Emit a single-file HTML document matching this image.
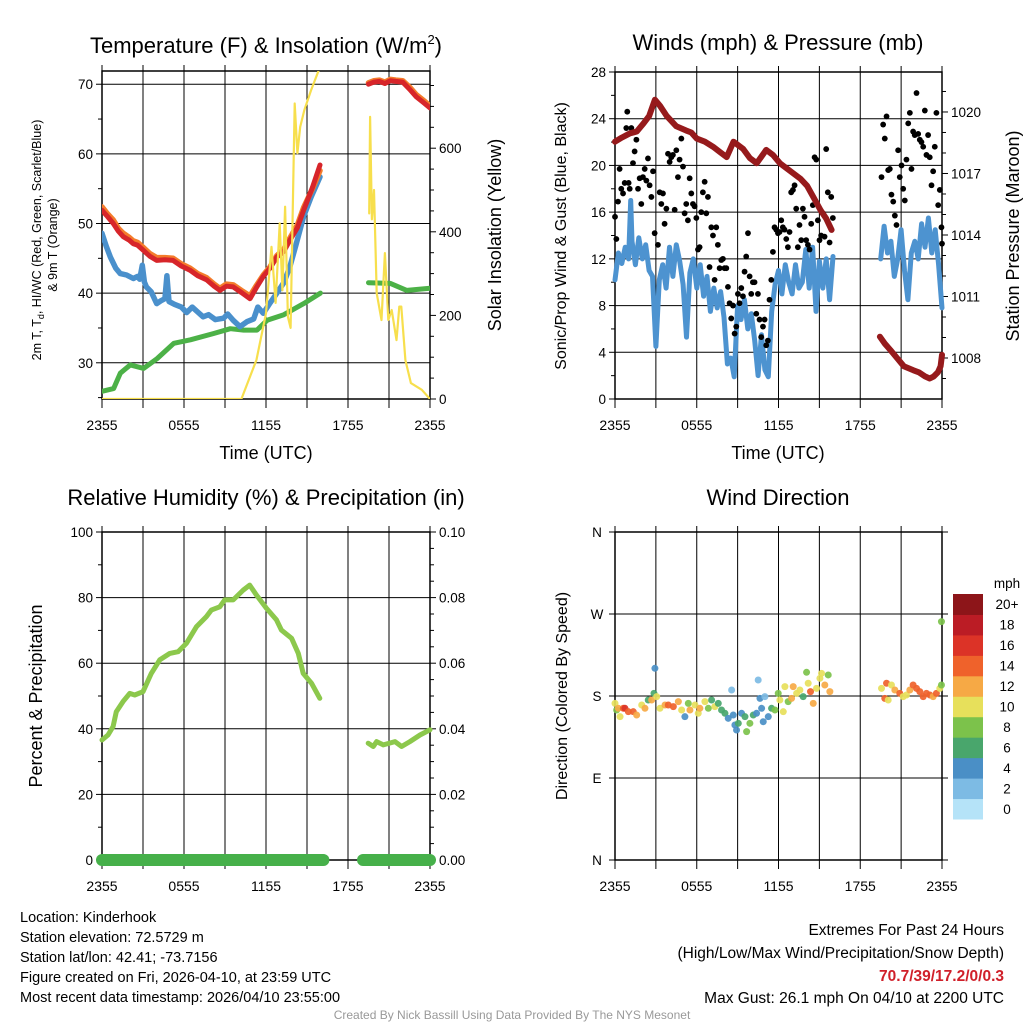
<!DOCTYPE html>
<html><head><meta charset="utf-8">
<style>
html,body{margin:0;padding:0;background:#fff;}
svg{display:block;font-family:"Liberation Sans",Arial,sans-serif;}
</style></head>
<body>
<svg id="chart" width="1024" height="1024" viewBox="0 0 1024 1024" xmlns="http://www.w3.org/2000/svg">
<rect x="0" y="0" width="1024" height="1024" fill="#fff"/>
<text x="266" y="53" font-size="22" text-anchor="middle">Temperature (F) &amp; Insolation (W/m<tspan font-size="13" dy="-9">2</tspan><tspan dy="9">)</tspan></text>
<text x="778" y="50" font-size="22" text-anchor="middle">Winds (mph) &amp; Pressure (mb)</text>
<text x="266" y="505" font-size="22" text-anchor="middle">Relative Humidity (%) &amp; Precipitation (in)</text>
<text x="778" y="505" font-size="22" text-anchor="middle">Wind Direction</text>
<text transform="translate(41,240) rotate(-90)" font-size="12.5" text-anchor="middle">2m T, T<tspan font-size="9" dy="3">d</tspan><tspan dy="-3">, HI/WC (Red, Green, Scarlet/Blue)</tspan></text>
<text transform="translate(57,245) rotate(-90)" font-size="12.5" text-anchor="middle">&amp; 9m T (Orange)</text>
<text transform="translate(501,235) rotate(-90)" font-size="18" text-anchor="middle">Solar Insolation (Yellow)</text>
<text x="266" y="459" font-size="18" text-anchor="middle">Time (UTC)</text>
<text transform="translate(566,236) rotate(-90)" font-size="16" text-anchor="middle">Sonic/Prop Wind &amp; Gust (Blue, Black)</text>
<text transform="translate(1019,236) rotate(-90)" font-size="18" text-anchor="middle">Station Pressure (Maroon)</text>
<text x="778" y="459" font-size="18" text-anchor="middle">Time (UTC)</text>
<text transform="translate(42,696) rotate(-90)" font-size="18" text-anchor="middle">Percent &amp; Precipitation</text>
<text transform="translate(567,696) rotate(-90)" font-size="16" text-anchor="middle">Direction (Colored By Speed)</text>
<g id="layer"></g>
<g font-size="14.5">
<text x="20" y="922">Location: Kinderhook</text>
<text x="20" y="942">Station elevation: 72.5729 m</text>
<text x="20" y="962">Station lat/lon: 42.41; -73.7156</text>
<text x="20" y="982">Figure created on Fri, 2026-04-10, at 23:59 UTC</text>
<text x="20" y="1002">Most recent data timestamp: 2026/04/10 23:55:00</text>
</g>
<g font-size="15.5" text-anchor="end">
<text x="1004" y="935">Extremes For Past 24 Hours</text>
<text x="1004" y="958">(High/Low/Max Wind/Precipitation/Snow Depth)</text>
<text x="1004" y="981" fill="#d0202a" font-weight="bold">70.7/39/17.2/0/0.3</text>
<text x="1004" y="1003">Max Gust: 26.1 mph On 04/10 at 2200 UTC</text>
</g>
<text x="512" y="1019" font-size="12" fill="#999" text-anchor="middle">Created By Nick Bassill Using Data Provided By The NYS Mesonet</text>
</svg>
<script>
// ===== DATA =====
const xTickLabels = ["2355","0555","1155","1755","2355"];
const redT1 = [0,0.4,0.83,1.2,1.56,2.0,2.29,2.6,3.0,3.5,4.0,4.6,5.2,5.8,6.44,7.0,7.66,8.2,8.63,9.1,9.6,10.2,10.83,11.3,11.8,12.3,12.8,13.3,13.75,14.3,14.75,15.4,15.95];
const redV1 = [51.9,51.0,50.0,48.9,48.1,47.6,47.1,46.9,46.2,45.3,44.7,44.8,44.7,43.9,43.3,42.5,41.9,41.0,40.4,41.0,40.9,40.1,39.2,40.8,42.4,43.6,45.2,46.0,47.6,49.4,51.9,55.2,58.4];
const redT2 = [19.5,19.9,20.3,20.7,21.1,21.5,22.0,22.5,23.0,23.5,24.0];
const redV2 = [70.0,70.3,70.4,70.1,70.5,70.4,70.3,69.3,68.2,67.4,66.6];
const orangeV1 = [52.4,51.4,50.5,49.3,48.6,48.0,47.5,47.3,46.6,45.7,45.1,45.1,45.0,44.2,43.6,42.8,42.2,41.3,40.7,41.3,41.2,40.4,39.6,41.1,42.6,43.8,45.4,46.3,47.9,49.8,52.3,55.0,57.6];
const orangeV2 = [70.2,70.5,70.6,70.3,70.7,70.6,70.5,69.6,68.5,67.7,66.9];
const blueTmpT = [0,0.3,0.61,1.0,1.34,1.8,2.29,2.6,2.76,2.95,3.1,3.25,3.6,4.0,4.3,4.6,4.75,4.9,5.3,5.8,6.2,6.6,7.0,7.4,7.8,8.3,8.9,9.2,9.6,10.1,10.6,11.1,11.4,11.8,12.3,12.8,13.3,13.75,14.2,14.75,15.3,15.95];
const blueTmpV = [48.6,46.8,45.2,43.6,42.8,42.6,42.1,42.4,42.0,44.0,41.6,40.9,40.2,38.5,38.9,39.2,42.5,38.8,38.4,38.0,37.2,38.0,37.3,36.6,36.9,36.2,36.4,37.0,36.1,35.2,35.9,36.3,38.0,37.1,38.6,40.0,41.5,43.8,47.0,51.0,53.8,56.7];
const dewT1 = [0,0.85,1.34,2.07,3.05,4.03,5.25,6.47,8.17,9.39,10.37,11.34,12.08,13.3,14.76,15.98];
const dewV1 = [25.9,26.3,28.5,29.7,29.2,30.6,32.8,33.3,34.2,34.9,34.7,34.7,36.1,36.9,38.5,40.0];
const dewT2 = [19.5,21.1,22.3,24.0];
const dewV2 = [41.5,41.4,40.4,40.7];
const solT1 = [0,10.2,11.3,12.0,12.4,12.7,13.0,13.2,13.4,13.6,13.8,14.1,14.3,14.5,14.8,15.3,15.9];
const solV1 = [0,0,93,205,364,230,420,260,460,197,170,707,588,651,691,739,790];
const solT2 = [19.55,19.62,19.75,19.9,20.1,20.45,20.7,20.95,21.2,21.55,21.75,21.9,22.2,22.6,23.4,24.0];
const solV2 = [444,675,430,500,253,189,349,189,213,141,221,221,93,38,22,0];
const windT1 = [0,0.25,0.5,0.75,1.0,1.15,1.25,1.5,1.75,2.0,2.25,2.5,2.75,3.0,3.25,3.5,3.75,4.0,4.25,4.5,4.75,5.0,5.25,5.5,5.75,6.0,6.25,6.5,6.75,7.0,7.25,7.5,7.75,8.0,8.25,8.5,8.75,9.0,9.25,9.5,9.75,10.0,10.25,10.5,10.75,11.0,11.25,11.5,11.75,12.0,12.25,12.5,12.75,13.0,13.25,13.5,13.75,14.0,14.25,14.5,14.75,15.0,15.25,15.5,15.75,16.0];
const windV1 = [10.2,12.5,11.6,13.0,12.0,17.0,13.5,11.5,13.8,12.0,13.2,11.0,10.5,4.5,10.2,11.5,9.5,13.0,10.5,13.2,11.8,9.8,5.3,10.8,12.0,9.5,11.5,8.8,10.5,7.5,9.5,7.8,9.2,7.0,3.0,3.5,1.9,8.0,6.8,8.5,6.0,7.3,5.0,2.0,5.5,2.5,1.9,7.5,9.8,11.0,9.0,11.5,10.0,9.0,11.5,9.5,10.0,12.8,9.5,13.0,7.5,11.8,9.5,12.0,8.5,12.2];
const windT2 = [19.5,19.75,20.0,20.25,20.5,20.75,21.0,21.25,21.5,21.75,22.0,22.25,22.5,22.75,23.0,23.25,23.5,23.75,24.0];
const windV2 = [12.0,14.8,12.5,13.5,10.5,12.0,14.5,11.0,8.5,12.5,13.5,12.0,15.0,13.0,15.5,12.5,14.5,11.5,7.8];
const gustT = [0.00,0.10,0.22,0.34,0.46,0.59,0.71,0.83,0.90,1.00,1.08,1.20,1.32,1.44,1.57,1.69,1.81,1.93,2.05,2.18,2.30,2.42,2.54,2.67,2.79,2.91,
3.15,3.28,3.40,3.52,3.64,3.77,3.89,4.01,4.13,4.25,4.38,4.50,4.62,4.74,4.87,4.99,5.11,5.23,5.35,5.48,5.60,5.72,5.84,5.97,6.09,6.21,6.33,6.45,6.58,6.70,6.82,6.94,7.07,7.19,7.31,7.43,7.55,7.68,7.80,7.92,8.04,8.17,8.29,8.41,8.53,8.66,8.78,8.90,9.02,9.14,9.27,9.39,9.51,9.63,9.76,9.88,10.00,10.12,10.24,10.37,10.49,10.61,10.73,10.86,10.98,11.10,11.22,11.34,11.47,11.59,11.71,11.83,11.96,12.08,12.20,12.32,12.44,12.57,12.69,12.81,12.93,13.06,13.18,13.30,13.42,13.54,13.67,13.79,13.91,14.03,14.16,14.28,14.40,14.52,14.65,14.77,14.89,15.01,15.13,15.26,15.38,15.50,15.62,15.75,15.87,15.99,
19.56,19.68,19.80,19.93,20.05,20.17,20.29,20.42,20.54,20.66,20.78,20.90,21.03,21.15,21.27,21.39,21.52,21.64,21.76,21.88,22.00,22.13,22.25,22.37,22.49,22.62,22.74,22.86,22.98,23.10,23.23,23.35,23.47,23.59,23.72,23.84,23.96,24.0];
const gustV = [15.6,13.7,16.9,19.7,18.0,17.6,18.5,23.2,24.6,18.5,18.0,23.2,20.2,21.2,22.2,18.0,18.9,16.7,19.0,19.7,18.7,20.6,18.3,17.3,19.5,14.2,
13.2,17.7,16.7,17.6,15.0,16.3,21.0,20.3,20.7,20.9,16.2,21.3,19.0,20.5,22.3,19.9,15.9,16.7,15.3,18.9,17.6,16.7,16.5,15.5,12.8,13.0,16.0,17.7,18.6,15.9,17.3,11.3,14.7,14.0,10.2,14.7,13.2,11.2,11.9,12.0,11.2,11.2,9.6,8.2,6.9,8.0,5.6,6.2,9.0,8.2,9.5,8.8,10.9,12.2,14.2,10.5,9.0,10.0,10.0,7.3,9.0,6.8,5.3,6.2,6.8,4.6,5.0,8.5,10.2,12.6,14.7,14.5,14.2,14.3,15.3,14.7,14.5,13.7,13.0,14.3,17.7,17.9,18.3,16.3,13.0,14.9,13.6,16.3,15.6,13.6,13.2,12.8,15.0,16.6,20.7,20.5,15.3,13.6,14.0,15.9,13.9,21.4,17.7,13.4,17.3,15.5,
19.0,23.5,22.3,24.2,19.6,19.7,17.5,16.9,15.7,14.9,21.3,19.0,20.0,18.0,17.0,20.5,23.6,24.5,19.7,22.9,22.6,26.2,22.7,22.2,22.0,21.6,24.7,20.9,22.6,20.7,18.3,19.5,21.6,24.5,16.6,17.9,14.7,13.3];
const presT1 = [0,0.5,1.1,1.6,2.1,2.5,2.93,3.3,3.8,4.5,5.2,5.6,6.0,6.6,7.2,7.7,8.2,8.7,9.4,9.9,10.4,11.1,11.6,12.1,12.6,13.1,13.6,14.1,14.6,15.1,15.5,15.9];
const presV1 = [1018.55,1018.75,1018.96,1019.05,1019.45,1019.8,1020.6,1020.3,1019.8,1019.3,1019.1,1019.0,1018.7,1018.55,1018.3,1018.05,1017.8,1018.55,1018.2,1017.75,1017.5,1018.15,1017.9,1017.5,1017.25,1017.0,1016.75,1016.4,1015.8,1015.2,1014.8,1014.25];
const presT2 = [19.44,19.8,20.2,20.7,21.2,21.9,22.3,22.75,23.1,23.4,23.7,23.9,24.0];
const presV2 = [1009.04,1008.7,1008.4,1008.0,1007.6,1007.4,1007.3,1007.1,1007.0,1007.1,1007.3,1007.6,1008.15];
const rhT1 = [0,0.44,0.81,1.05,1.54,2.03,2.39,3.0,3.61,4.22,4.96,5.57,6.18,6.91,7.64,8.0,8.62,8.98,9.6,10.33,10.81,11.3,12.04,12.77,13.13,13.87,14.36,14.72,15.33,15.94];
const rhV1 = [36.6,38.1,40.7,45.2,48.3,50.8,50.3,51.3,56.9,61.0,63.0,63.5,66.1,71.1,74.2,76.2,77.2,79.3,79.3,82.3,83.8,80.8,76.7,73.2,70.1,67.6,63.0,56.9,53.9,49.3];
const rhT2 = [19.48,19.85,20.09,20.58,21.44,21.92,22.53,23.27,24.0];
const rhV2 = [35.6,34.6,36.1,35.1,36.1,34.6,36.1,38.1,39.7];
const precipT1 = [0,16.2];
const precipV1 = [0,0];
const precipT2 = [19.1,24];
const precipV2 = [0,0];
const dirT = [0.00,0.12,0.24,0.37,0.61,0.73,0.98,1.34,1.59,1.96,2.20,2.44,2.69,2.86,2.93,3.06,3.30,3.67,3.91,4.28,4.65,4.89,5.13,5.38,5.50,5.87,6.11,6.23,6.60,6.85,7.09,7.33,7.58,7.82,8.07,8.31,8.56,8.68,8.80,8.92,9.05,9.29,9.54,9.66,9.90,10.15,10.39,10.51,10.64,10.76,10.88,11.00,11.25,11.49,11.74,11.98,12.10,12.35,12.47,12.71,12.96,13.08,13.33,13.57,13.81,14.06,14.18,14.35,14.55,14.79,15.04,15.16,15.40,15.65,15.77,
19.56,19.80,19.93,20.05,20.29,20.54,20.90,21.15,21.39,21.64,21.88,22.13,22.37,22.62,22.86,23.11,23.35,23.59,23.84,23.96,23.96];
const dirV = [171.9,164.6,166.5,157.3,166.5,166.5,162.8,162.8,159.1,170.1,166.5,175.6,175.6,182.9,210.4,179.3,166.5,170.1,170.1,168.3,173.8,164.6,157.3,171.9,164.6,170.1,161.0,166.5,173.8,166.5,175.6,168.3,171.9,164.6,161.0,155.5,186.6,159.1,148.2,142.7,150.0,161.0,157.3,140.9,150.0,159.1,161.0,197.6,177.4,166.5,151.8,179.3,157.3,166.5,164.6,182.9,175.6,162.8,190.3,173.8,177.4,190.3,182.9,186.6,179.3,206.0,194.0,184.8,171.9,188.4,199.4,204.9,192.1,203.1,184.8,
188.4,177.4,194.0,175.6,192.1,186.6,182.9,179.3,181.1,186.6,192.1,188.4,184.8,179.3,182.9,181.1,179.3,182.9,188.4,192.1,261.6];
const dirSpd = [10.5,9,13,10.5,14.5,17,14.5,14.5,12.5,10.5,12.5,7,12.5,7,5,10.5,10.5,12.5,14.5,14.5,12.5,10.5,5,9,13,10.5,10.5,12.5,10.5,9,7,10.5,7,7,7,5,3,5,5,5,7,5,7,9,9,7,5,3,5,5,5,3,5,7,9,9,10.5,10.5,11,9,12.5,12.5,10.5,11,7,9,10.5,15,13,10.5,10.5,11,12.5,9,12.5,
11,15,14.5,10.5,10.5,12.5,14.5,10.5,11,12.5,14.5,14.5,15,14.5,14.5,14.5,12.5,14.5,10.5,9,9];
const speedBins = ["0","2","4","6","8","10","12","14","16","18","20+"];
const speedColors = ["#b5e3f8","#7dbbe4","#4a8fc6","#49a66c","#7cc24b","#e7e05b","#f6a945","#ef622b","#dc3327","#bb1c25","#8d1519"];

// ===== DRAWING =====
const NS = "http://www.w3.org/2000/svg";
const layer = document.getElementById("layer");
function mk(tag, attrs, parent){
  const e = document.createElementNS(NS, tag);
  for (const k in attrs) e.setAttribute(k, attrs[k]);
  (parent||layer).appendChild(e);
  return e;
}
function lin(d0,d1,r0,r1){ return v => r0 + (v-d0)/(d1-d0)*(r1-r0); }

function panelFrame(p, name){
  const g = mk("g", {});
  
  
  for (let h=0; h<=24; h+=3){
    const x = p.x(h);
    const l = mk("line",{x1:x,x2:x,y1:p.y0-6,y2:p.y1+9,stroke:"#000","stroke-width":1}, g);
    
    
  }
  xTickLabels.forEach((lab,i)=>{
    const t = mk("text",{x:p.x(i*6),y:p.y1+31,"font-size":14,"text-anchor":"middle"}, g);
    t.textContent = lab;
    
    
  });
  return g;
}
function yAxis(g, p, scale, major, minor, min, max, side, fmt, grid){
  for (let v=Math.ceil(min/minor)*minor; v<=max+1e-9; v+=minor){
    const y = scale(v);
    const isMaj = Math.abs(v/major - Math.round(v/major)) < 1e-6;
    const len = isMaj?6:4;
    if (side==="left"){
      mk("line",{x1:p.x0-len,x2:p.x0,y1:y,y2:y,stroke:"#000","stroke-width":1},g);
    } else {
      mk("line",{x1:p.x1,x2:p.x1+len,y1:y,y2:y,stroke:"#000","stroke-width":1},g);
    }
    if (isMaj){
      if (grid) {
        const gl = mk("line",{x1:p.x0,x2:p.x1,y1:y,y2:y,stroke:"#000","stroke-width":1},g);
        
        
      }
      const t = mk("text",{x: side==="left"? p.x0-9 : p.x1+9, y:y+5, "font-size":13.5, "text-anchor": side==="left"?"end":"start"},g);
      t.textContent = fmt(v);
      
      
    }
  }
}
function border(g,p){
  mk("rect",{x:p.x0,y:p.y0,width:p.x1-p.x0,height:p.y1-p.y0,fill:"none",stroke:"#000","stroke-width":1.5},g);
}
function pathFrom(ts, vs, xs, ys){
  let d=""; const n=Math.min(ts.length,vs.length);
  for (let i=0;i<n;i++) d += (i?"L":"M")+xs(ts[i]).toFixed(1)+","+ys(vs[i]).toFixed(1);
  return d;
}
function line(g, ts, vs, xs, ys, color, w, name){
  const e = mk("path",{d:pathFrom(ts,vs,xs,ys),fill:"none",stroke:color,"stroke-width":w,"stroke-linejoin":"round","stroke-linecap":"round"},g);
  
  
  return e;
}

// ---- Panel 1 ----
(function(){
  const p = {x0:102,x1:430,y0:71,y1:399};
  p.x = lin(0,24,p.x0,p.x1);
  const y = lin(24.8,71.9,p.y1,p.y0);
  const yr = lin(0,784.7,p.y1,p.y0);
  const g = panelFrame(p,'temperature-panel');
  yAxis(g,p,y,10,5,25,71.9,"left",v=>String(v),true);
  yAxis(g,p,yr,200,50,0,784,"right",v=>String(v),false);
  const c = mk("g",{});  
  mk("clipPath",{id:"clip1"},c).appendChild(document.createElementNS(NS,"rect"));
  const cr = c.querySelector("#clip1 rect"); cr.setAttribute("x",p.x0);cr.setAttribute("y",p.y0);cr.setAttribute("width",p.x1-p.x0);cr.setAttribute("height",p.y1-p.y0);
  const s = mk("g",{"clip-path":"url(#clip1)"},c);
  line(s,dewT1,dewV1,p.x,y,"#4cb147",5,'dewpoint-line');
  line(s,dewT2,dewV2,p.x,y,"#4cb147",5,'dewpoint-line-2');
  line(s,blueTmpT,blueTmpV,p.x,y,"#4a90cc",5.5,'wind-chill-line');
  line(s,redT1,orangeV1,p.x,y,"#f47c2b",5.5,'9m-temperature-line');
  line(s,redT2,orangeV2,p.x,y,"#f47c2b",5.5,'9m-temperature-line-2');
  line(s,redT1,redV1,p.x,y,"#d7252a",5,'2m-temperature-line');
  line(s,redT2,redV2,p.x,y,"#d7252a",5,'2m-temperature-line-2');
  line(s,solT1,solV1,p.x,yr,"#f7df4d",2.2,'insolation-line');
  line(s,solT2,solV2,p.x,yr,"#f7df4d",2.2,'insolation-line-2');
  border(g,p);
})();

// ---- Panel 2 ----
(function(){
  const p = {x0:615,x1:942,y0:72,y1:399};
  p.x = lin(0,24,p.x0,p.x1);
  const y = lin(0,28,p.y1,p.y0);
  const yp = lin(1006.0,1021.95,p.y1,p.y0);
  const g = panelFrame(p,'winds-panel');
  yAxis(g,p,y,4,2,0,28,"left",v=>String(v),true);
  yAxis(g,p,yp,3,1,1007,1021,"right",v=>String(v),false);
  const c = mk("g",{});  
  line(c,windT1,windV1,p.x,y,"#4d93d0",5,'wind-speed-line');
  line(c,windT2,windV2,p.x,y,"#4d93d0",5,'wind-speed-line-2');
  const n = Math.min(gustT.length,gustV.length);
  for (let i=0;i<n;i++){
    const d = mk("circle",{cx:p.x(gustT[i]),cy:y(gustV[i]),r:2.9,fill:"#000"},c);
    
    
  }
  line(c,presT1,presV1,p.x,yp,"#961a1c",6,'pressure-line');
  line(c,presT2,presV2,p.x,yp,"#961a1c",6,'pressure-line-2');
  border(g,p);
})();

// ---- Panel 3 ----
(function(){
  const p = {x0:102,x1:430,y0:532,y1:860};
  p.x = lin(0,24,p.x0,p.x1);
  const y = lin(0,100,p.y1,p.y0);
  const yr = lin(0,0.1,p.y1,p.y0);
  const g = panelFrame(p,'humidity-panel');
  yAxis(g,p,y,20,10,0,100,"left",v=>String(v),true);
  yAxis(g,p,yr,0.02,0.005,0,0.1,"right",v=>v.toFixed(2),false);
  const c = mk("g",{});  
  line(c,rhT1,rhV1,p.x,y,"#8cc84c",5,'relative-humidity-line');
  line(c,rhT2,rhV2,p.x,y,"#8cc84c",5,'relative-humidity-line-2');
  border(g,p);
  line(c,precipT1,precipV1,p.x,yr,"#46b04a",12,'precipitation-line');
  line(c,precipT2,precipV2,p.x,yr,"#46b04a",12,'precipitation-line-2');
})();

// ---- Panel 4 ----
(function(){
  const p = {x0:615,x1:942,y0:532,y1:860};
  p.x = lin(0,24,p.x0,p.x1);
  const y = lin(0,360,p.y1,p.y0);
  const g = panelFrame(p,'wind-direction-panel');
  const dirLabels = ["N","E","S","W","N"];
  dirLabels.forEach((lab,i)=>{
    const yy = y(i*90);
    mk("line",{x1:p.x0-6,x2:p.x1+6,y1:yy,y2:yy,stroke:"#000","stroke-width":1},g);
    const t = mk("text",{x:p.x0-18,y:yy+5,"font-size":13.5,"text-anchor":"middle"},g);
    t.textContent = lab;
    
    
  });
  const c = mk("g",{});  
  const n = Math.min(dirT.length,dirV.length,dirSpd.length);
  for (let i=0;i<n;i++){
    const bin = Math.min(10,Math.floor(dirSpd[i]/2));
    const d = mk("circle",{cx:p.x(dirT[i]),cy:y(dirV[i]),r:3.5,fill:speedColors[bin],"fill-opacity":0.92},c);
    
    
  }
  border(g,p);
  const cb = mk("g",{});  
  const top=594, bot=819, h=(bot-top)/speedBins.length;
  const mt = mk("text",{x:1007,y:588,"font-size":13.5,"text-anchor":"middle"},cb); mt.textContent="mph";
  speedBins.forEach((lab,i)=>{
    const yy = bot - (i+1)*h;
    const r = mk("rect",{x:953,y:yy,width:30,height:h+0.5,fill:speedColors[i]},cb);
    
    
    const t = mk("text",{x:1007,y:yy+h/2+5,"font-size":13.5,"text-anchor":"middle"},cb);
    t.textContent = lab;
    
    
  });
})();
</script>
</body></html>
